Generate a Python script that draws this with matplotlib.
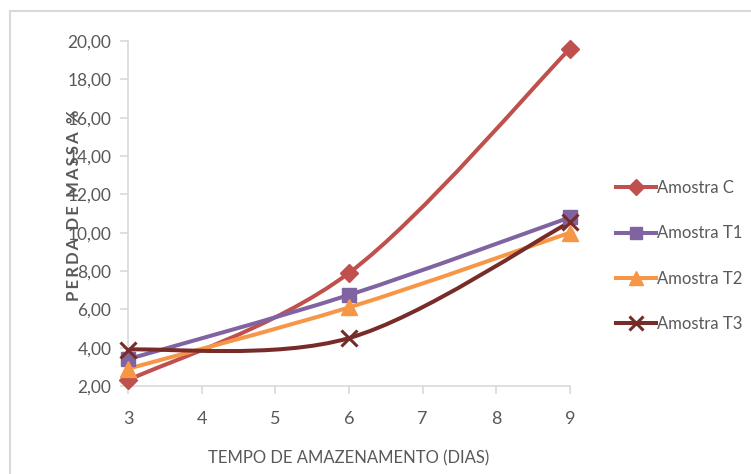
import matplotlib.pyplot as plt
import numpy as np
from matplotlib.path import Path
from matplotlib.patches import PathPatch
from matplotlib.lines import Line2D
from matplotlib.ticker import FuncFormatter

plt.rc('font', family=['Lato', 'DejaVu Sans'], size=12.5)

dias = [3, 6, 9]
amostra_c = [2.30, 7.90, 19.60]
amostra_t1 = [3.40, 6.75, 10.80]
amostra_t2 = [2.90, 6.10, 10.00]
amostra_t3 = [3.90, 4.50, 10.55]

series = [
    ('Amostra C', amostra_c, '#C0504D', 'D', 9),
    ('Amostra T1', amostra_t1, '#8064A2', 's', 10),
    ('Amostra T2', amostra_t2, '#F79646', '^', 11),
    ('Amostra T3', amostra_t3, '#772C2A', 'x', 11),
]


def smooth_path(x, y):
    # catmull-rom segments written as cubic bezier pieces
    pts = np.column_stack([x, y]).astype(float)
    ext = np.vstack([pts[0], pts, pts[-1]])
    verts = [pts[0]]
    codes = [Path.MOVETO]
    for i in range(1, len(ext) - 2):
        p0, p1, p2, p3 = ext[i - 1], ext[i], ext[i + 1], ext[i + 2]
        verts += [p1 + (p2 - p0) / 6, p2 - (p3 - p1) / 6, p2]
        codes += [Path.CURVE4] * 3
    return Path(verts, codes)


fig = plt.figure(figsize=(7.51, 4.74), dpi=100)
ax = fig.add_axes([128 / 751, 1 - 386 / 474, 442 / 751, 345 / 474])

handles = []
for name, vals, color, mk, ms in series:
    ax.add_patch(PathPatch(smooth_path(dias, vals), facecolor='none',
                           edgecolor=color, lw=2.9, capstyle='round',
                           joinstyle='round', zorder=2))
    mew = 2.2 if mk == 'x' else 1
    ax.plot(dias, vals, linestyle='none', marker=mk, markersize=ms,
            color=color, markeredgewidth=mew, zorder=3, clip_on=False)
    handles.append(Line2D([], [], color=color, lw=2.9, marker=mk,
                          markersize=ms * 0.9, markeredgewidth=mew, label=name))

ax.set_xlim(3, 9)
ax.set_ylim(2, 20)
ax.set_xticks(range(3, 10))
ax.set_yticks(np.arange(2, 21, 2))
ax.yaxis.set_major_formatter(FuncFormatter(lambda v, p: f'{v:.2f}'.replace('.', ',')))

for side in ['top', 'right']:
    ax.spines[side].set_visible(False)
for side in ['left', 'bottom']:
    ax.spines[side].set_color('#D9D9D9')
    ax.spines[side].set_linewidth(1.2)
ax.tick_params(colors='#D9D9D9', labelcolor='#595959', length=6, width=1.2)
ax.tick_params(axis='y', pad=6)
ax.tick_params(axis='x', pad=12, labelsize=13)

ax.set_xlabel('TEMPO DE AMAZENAMENTO (DIAS)', color='#595959', fontsize=12,
              labelpad=17)
# spaced-out letters for the vertical title
ax.set_ylabel('\u2009'.join('PERDA DE MASSA %'), color='#595959', fontsize=12,
              fontweight='bold')
ax.yaxis.set_label_coords(-0.105, 0.525)

leg = fig.legend(handles=handles, loc='center left',
                 bbox_to_anchor=(609 / 751, 1 - 256 / 474), frameon=False,
                 handlelength=2.4, handletextpad=0.1, labelspacing=1.75,
                 fontsize=12, borderaxespad=0)
for t in leg.get_texts():
    t.set_color('#595959')

# chart border
fig.add_artist(Line2D([10 / 751, 10 / 751], [0, 1 - 11 / 474],
                      transform=fig.transFigure, color='#D9D9D9', lw=1.5))
fig.add_artist(Line2D([10 / 751, 1], [1 - 11 / 474, 1 - 11 / 474],
                      transform=fig.transFigure, color='#D9D9D9', lw=1.5))

fig.savefig('out.png', dpi=100)
